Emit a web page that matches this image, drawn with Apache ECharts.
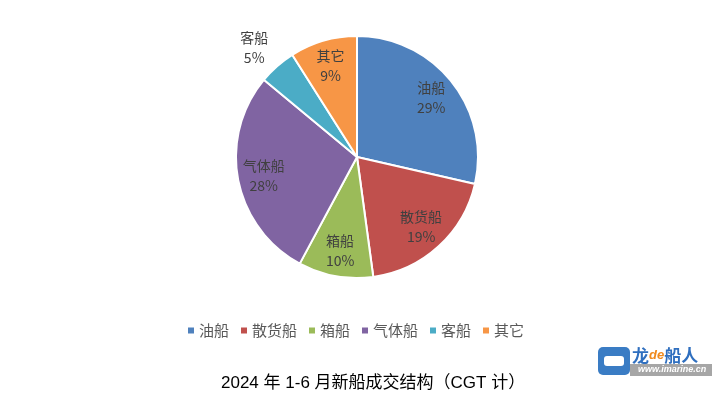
<!DOCTYPE html>
<html>
<head>
<meta charset="utf-8">
<script src="https://cdn.jsdelivr.net/npm/echarts@6/dist/echarts.min.js"></script>
<style>
  html, body { margin: 0; padding: 0; background: #fff; }
  #main { width: 728px; height: 398px; }
</style>
</head>
<body>
<div id="main"></div>
<script>
// 船型（图例顺序）
const shipTypes = ['油船', '散货船', '箱船', '气体船', '客船', '其它'];
// 占比估算值（%）
const shareValues = [28.6, 19.3, 10.0, 28.2, 5.0, 9.0];
const sliceColors = ['#4F81BD', '#C0504D', '#9BBB59', '#8064A2', '#4BACC6', '#F79646'];
const chartTitle = '2024 年 1-6 月新船成交结构（CGT 计）';

const chart = echarts.init(document.getElementById('main'));

const pieData = shipTypes.map((name, i) => ({
  name,
  value: shareValues[i],
  itemStyle: { color: sliceColors[i] }
}));

// 标签层：客船放在外侧
const labelData = shipTypes.map((name, i) => {
  const item = { name, value: shareValues[i] };
  if (name === '客船') {
    item.label = { position: 'outside' };
    item.labelLine = { show: false, length: 24, length2: 2 };
  }
  return item;
});

const labelFont = {
  color: '#404040',
  fontSize: 14,
  lineHeight: 20,
  fontFamily: '"Noto Sans CJK SC", sans-serif'
};

chart.setOption({
  animation: false,
  title: {
    text: chartTitle,
    left: 216,
    top: 370,
    textStyle: {
      color: '#000',
      fontSize: 17,
      fontWeight: 'normal',
      fontFamily: '"Liberation Sans", "Noto Sans CJK SC", sans-serif'
    }
  },
  legend: {
    data: shipTypes,
    top: 318,
    left: 181,
    icon: 'rect',
    itemWidth: 8,
    itemHeight: 8,
    itemGap: 10,
    textStyle: {
      color: '#595959',
      fontSize: 15,
      fontFamily: '"Noto Sans CJK SC", sans-serif',
      padding: [0, 0, 0, -1]
    }
  },
  series: [
    {
      type: 'pie',
      center: [357, 157],
      radius: 121,
      startAngle: 90,
      clockwise: true,
      avoidLabelOverlap: false,
      data: pieData,
      itemStyle: { borderColor: '#fff', borderWidth: 2 },
      label: { show: false },
      labelLine: { show: false },
      emphasis: { disabled: true }
    },
    {
      // 透明层，只负责把标签放到 0.76R 处
      type: 'pie',
      center: [357, 157],
      radius: [63, 121],
      startAngle: 90,
      clockwise: true,
      silent: true,
      avoidLabelOverlap: false,
      data: labelData,
      itemStyle: { color: 'rgba(0,0,0,0)', borderWidth: 0 },
      label: Object.assign({
        show: true,
        position: 'inside',
        formatter: p => p.name + '\n' + Math.round(p.percent) + '%'
      }, labelFont),
      labelLine: { show: false },
      labelLayout: p => (p.dataIndex === 4 ? { align: 'center' } : {}),
      emphasis: { disabled: true }
    }
  ],
  graphic: [
    {
      type: 'group',
      left: 598,
      top: 347,
      children: [
        { type: 'rect', shape: { x: 0, y: 0, width: 32, height: 28, r: 5 }, style: { fill: '#3a7cc4' } },
        { type: 'rect', shape: { x: 6, y: 9, width: 20, height: 10, r: 3 }, style: { fill: '#fff' } },
        { type: 'rect', shape: { x: 32, y: 17, width: 82, height: 12 }, style: { fill: '#a6a6a6' } },
        {
          type: 'text', x: 34, y: 0,
          style: {
            text: '{a|龙}{b|de}{a|船人}',
            rich: {
              a: { fill: '#2f6fbf', fontSize: 17, fontWeight: 'bold', fontFamily: '"Noto Sans CJK SC", sans-serif' },
              b: { fill: '#f08a1c', fontSize: 13, fontWeight: 'bold', fontStyle: 'italic', fontFamily: '"Liberation Sans", sans-serif' }
            }
          }
        },
        {
          type: 'text', x: 40, y: 18,
          style: { text: 'www.imarine.cn', fill: '#fff', fontSize: 9, fontStyle: 'italic', fontWeight: 'bold', fontFamily: '"Liberation Sans", sans-serif' }
        }
      ]
    }
  ]
});
</script>
</body>
</html>
